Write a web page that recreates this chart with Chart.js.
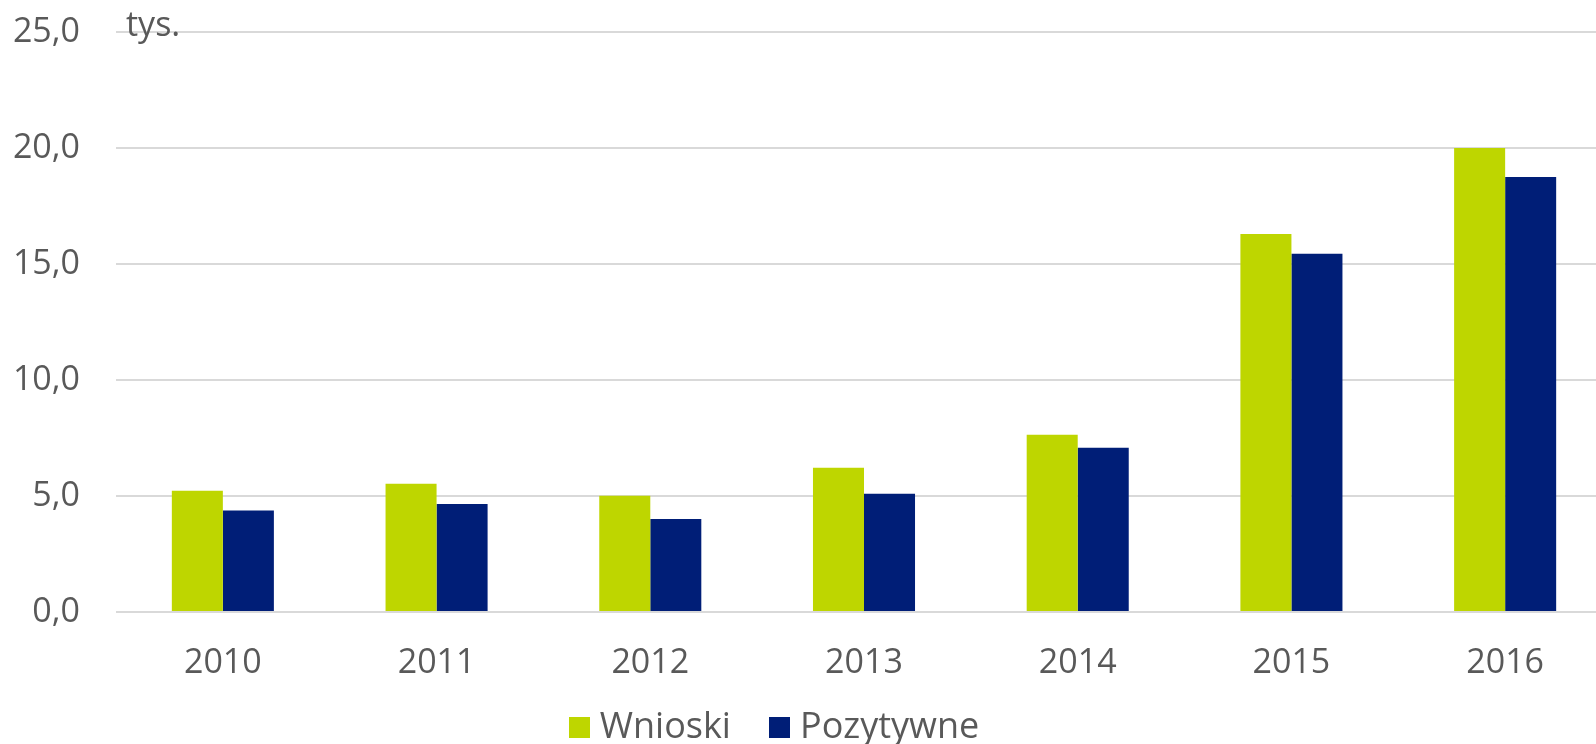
<!DOCTYPE html>
<html>
<head>
<meta charset="utf-8">
<script src="https://cdn.jsdelivr.net/npm/chart.js@4/dist/chart.umd.min.js"></script>
<style>
  html, body { margin: 0; padding: 0; background: #fff; overflow: hidden; }
  body { width: 1596px; height: 744px; position: relative; }
  #wrap { position: absolute; left: 0; top: 0; width: 1612px; height: 744px; }
  #legend {
    position: absolute; left: 0; top: 707px; width: 1548px;
    text-align: center; font-family: "Open Sans", sans-serif;
    font-size: 36px; line-height: 1; color: #595959; white-space: nowrap;
  }
  #legend .item { display: inline-block; margin: 0 19px; }
  #legend .box { display: inline-block; width: 21px; height: 21px; margin-right: 10px; vertical-align: baseline; }
</style>
</head>
<body>
<div id="wrap"><canvas id="barChart"></canvas></div>
<div id="legend"></div>
<script>
// values in thousands
const years = ["2010", "2011", "2012", "2013", "2014", "2015", "2016"];
const wnioski = [5.23, 5.53, 5.01, 6.22, 7.64, 16.29, 20.0];
const pozytywne = [4.37, 4.66, 4.01, 5.10, 7.08, 15.44, 18.75];
const seriesNames = ["Wnioski", "Pozytywne"];
const seriesColors = ["#bed600", "#001e77"];
const unitLabel = "tys.";

const textColor = "#595959";
const fontFamily = "'Open Sans', sans-serif";

// "tys." above the axis
const unitPlugin = {
  id: "unitLabel",
  afterDatasetsDraw(chart) {
    const c = chart.ctx;
    const y = chart.scales.y.getPixelForValue(25);
    c.save();
    c.font = "34px " + fontFamily;
    c.fillStyle = textColor;
    c.textBaseline = "alphabetic";
    c.fillText(unitLabel, chart.chartArea.left + 10, y + 4);
    c.restore();
  },
};

const ctx = document.getElementById("barChart").getContext("2d");
new Chart(ctx, {
  type: "bar",
  data: {
    labels: years,
    datasets: [
      { label: seriesNames[0], data: wnioski, backgroundColor: seriesColors[0] },
      { label: seriesNames[1], data: pozytywne, backgroundColor: seriesColors[1] },
    ],
  },
  options: {
    responsive: true,
    maintainAspectRatio: false,
    animation: false,
    layout: { padding: { top: 32, bottom: 0, left: 0, right: 0 } },
    datasets: { bar: { categoryPercentage: 0.4775, barPercentage: 1.0 } },
    plugins: { legend: { display: false }, tooltip: { enabled: false } },
    scales: {
      x: {
        grid: { display: false },
        border: { display: false },
        ticks: { color: textColor, font: { family: fontFamily, size: 34 }, padding: 23 },
        afterFit(axis) { axis.height = 132; },
      },
      y: {
        min: 0,
        max: 25,
        grid: { color: "#d9d9d9", lineWidth: 2, drawTicks: false },
        border: { display: false },
        ticks: {
          stepSize: 5,
          color: textColor,
          font: { family: fontFamily, size: 34 },
          padding: 36,
          callback: (v) => v.toFixed(1).replace(".", ","),
        },
        afterFit(axis) {
          axis.width = 116;
          axis.paddingTop = 0;
          axis.paddingBottom = 0;
        },
      },
    },
  },
  plugins: [unitPlugin],
});

// legend
const legend = document.getElementById("legend");
seriesNames.forEach((name, i) => {
  const item = document.createElement("span");
  item.className = "item";
  const box = document.createElement("span");
  box.className = "box";
  box.style.background = seriesColors[i];
  item.appendChild(box);
  item.appendChild(document.createTextNode(name));
  legend.appendChild(item);
});
</script>
</body>
</html>
